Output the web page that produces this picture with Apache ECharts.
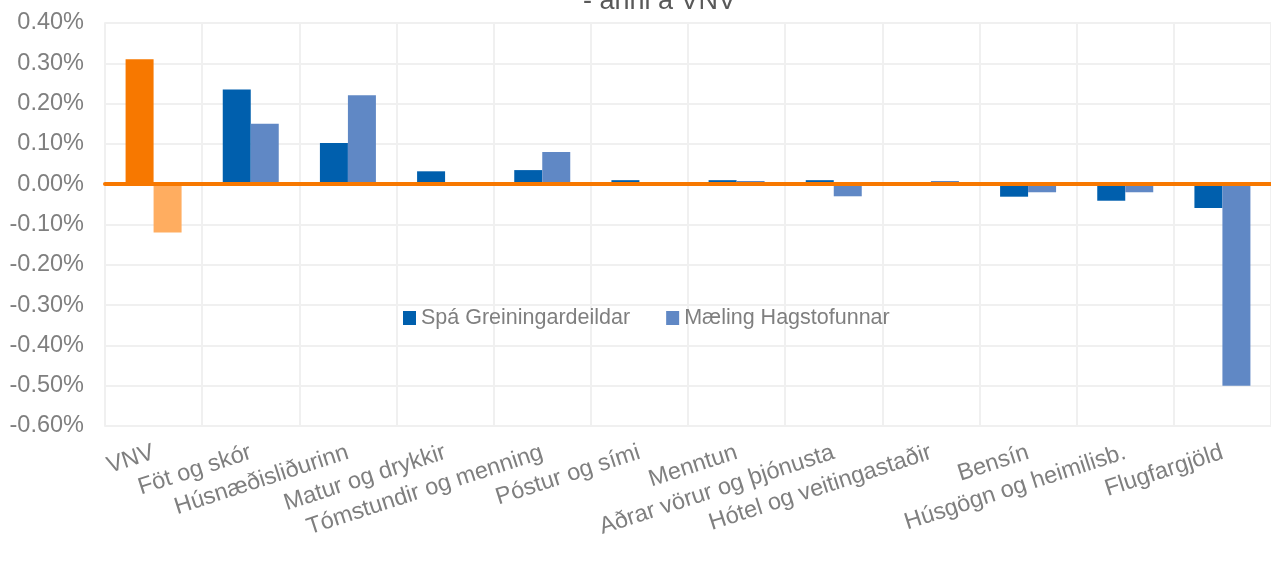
<!DOCTYPE html>
<html>
<head>
<meta charset="utf-8">
<script src="https://cdn.jsdelivr.net/npm/echarts@6/dist/echarts.min.js"></script>
<style>html,body{margin:0;padding:0;background:#fff}#c{width:1271px;height:566px}</style>
</head>
<body>
<div id="c"></div>
<script>
var categories = ["VNV","Föt og skór","Húsnæðisliðurinn","Matur og drykkir","Tómstundir og menning","Póstur og sími","Menntun","Aðrar vörur og þjónusta","Hótel og veitingastaðir","Bensín","Húsgögn og heimilisb.","Flugfargjöld"];
var spa = [0.31, 0.235, 0.102, 0.032, 0.035, 0.01, 0.01, 0.01, 0, -0.031, -0.041, -0.059];
var maeling = [-0.12, 0.15, 0.221, 0, 0.08, 0, 0.008, -0.03, 0.008, -0.02, -0.02, -0.50];
var seriesNames = ["Spá Greiningardeildar", "Mæling Hagstofunnar"];
var titleText = "- anni á VNV";

var C_DARK = "#005FAD", C_LIGHT = "#6088C5", C_OR = "#F77800", C_OR_L = "#FFAD60";
var txt = "#7F7F7F", grid = "#F0F0F0", FONT = "Liberation Sans, Arial, sans-serif";

function withHighlight(arr, col) {
  return arr.map(function (v, i) {
    return i === 0 ? { value: v, itemStyle: { color: col } } : v;
  });
}

var chart = echarts.init(document.getElementById('c'), null, { renderer: 'canvas' });
chart.setOption({
  animation: false,
  textStyle: { fontFamily: FONT },
  title: {
    text: titleText, left: 578, top: -17,
    textStyle: { fontSize: 27, fontWeight: 'normal', color: '#595959', fontFamily: FONT }
  },
  legend: {
    data: seriesNames, left: 398, top: 302, icon: 'rect', itemWidth: 13, itemHeight: 14, itemGap: 36,
    textStyle: { fontSize: 21.5, color: txt, fontFamily: FONT }
  },
  grid: { left: 105, right: 0, top: 23, bottom: 140, containLabel: false },
  xAxis: [{
    type: 'category', data: categories, position: 'bottom',
    axisLine: { show: false, onZero: false }, axisTick: { show: false },
    splitLine: { show: true, lineStyle: { color: grid, width: 2 } },
    axisLabel: { rotate: 18, fontSize: 23.5, color: txt, margin: 26, interval: 0, fontFamily: FONT }
  }, {
    type: 'category', data: categories, position: 'bottom', z: 10,
    axisLine: { show: true, onZero: true, lineStyle: { color: C_OR, width: 4 } },
    axisTick: { show: false }, axisLabel: { show: false }, splitLine: { show: false }
  }],
  yAxis: {
    type: 'value', min: -0.6, max: 0.4, interval: 0.1,
    axisLine: { show: true, lineStyle: { color: grid, width: 2 } }, axisTick: { show: false },
    splitLine: { lineStyle: { color: grid, width: 2 } },
    axisLabel: { fontSize: 23.5, color: txt, margin: 21, fontFamily: FONT,
      formatter: function (v) { return v.toFixed(2) + '%'; } }
  },
  series: [{
    name: seriesNames[0], type: 'bar', xAxisIndex: 0, barWidth: 28, barGap: '0%',
    itemStyle: { color: C_DARK }, data: withHighlight(spa, C_OR)
  }, {
    name: seriesNames[1], type: 'bar', xAxisIndex: 0, barWidth: 28, barGap: '0%',
    itemStyle: { color: C_LIGHT }, data: withHighlight(maeling, C_OR_L)
  }]
});
</script>
</body>
</html>
